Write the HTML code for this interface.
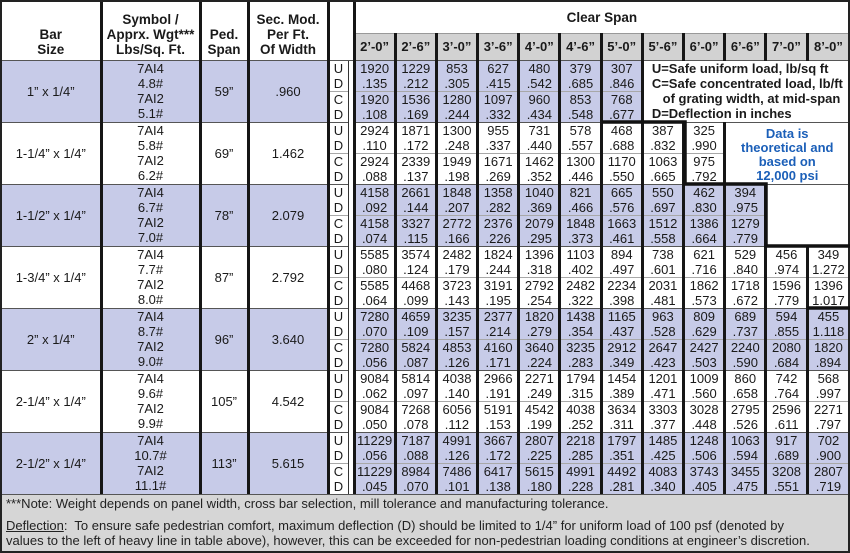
<!DOCTYPE html>
<html><head><meta charset="utf-8"><style>
*{margin:0;padding:0;box-sizing:border-box}
body{width:850px;height:553px;background:#fff;font-family:"Liberation Sans",Arial,sans-serif;color:#1a1a1a;overflow:hidden;position:relative}
#wrap{position:absolute;left:0;top:0;width:850px;height:553px;border:2px solid #222}
table{border-collapse:collapse;table-layout:fixed;width:846px}
td{padding:0;text-align:center;font-size:13px;line-height:13px;height:15px;border-left:3px solid #161616;overflow:hidden;white-space:nowrap}
tr.m td,tr.g td{height:16px}
.h1 td{height:31px}
.h2 td{height:27px}
.hd{font-weight:bold;font-size:13.5px;line-height:15px;vertical-align:bottom;padding-bottom:3px}
.sp{background:#d2d2d2;font-weight:bold;font-size:13px;vertical-align:middle;border-top:1px solid #999}
tr.g td{border-top:1px solid #555}
tr.m td{border-top:1px solid #a8a8a8}
.bl td{background:#c7cbe8}
td.w{background:#fff!important}
.lc{line-height:15px;font-size:13px}
.gap{background:#fff!important;border-left:1px solid #333}
.leg{text-align:left;font-weight:bold;font-size:13px;line-height:15px;padding-left:8px;vertical-align:top;padding-top:0}
.dat{color:#1b5fb8;font-weight:bold;font-size:13px;line-height:14px;vertical-align:top;padding-top:4px}
#foot{position:absolute;left:0;top:492px;width:846px;height:57px;background:#d6d6d6;border-top:1px solid #555;font-size:13px;line-height:15px;padding-left:4px;color:#222}
</style></head><body><div id="wrap">
<table>
<colgroup><col style="width:99px"><col style="width:99px"><col style="width:48px"><col style="width:80px"><col style="width:20px"><col style="width:6px"><col span="12" style="width:41.2px"></colgroup>
<tr class="h1"><td rowspan="2" class="hd" style="border-left:none">Bar<br>Size</td><td rowspan="2" class="hd">Symbol /<br>Apprx. Wgt***<br>Lbs/Sq. Ft.</td><td rowspan="2" class="hd">Ped.<br>Span</td><td rowspan="2" class="hd">Sec. Mod.<br>Per Ft.<br>Of Width</td><td rowspan="2" colspan="2"></td><td colspan="12" style="font-weight:bold;font-size:13.5px">Clear Span</td></tr>
<tr class="h2"><td class="sp">2’-0”</td><td class="sp">2’-6”</td><td class="sp">3’-0”</td><td class="sp">3’-6”</td><td class="sp">4’-0”</td><td class="sp">4’-6”</td><td class="sp">5’-0”</td><td class="sp">5’-6”</td><td class="sp">6’-0”</td><td class="sp">6’-6”</td><td class="sp">7’-0”</td><td class="sp">8’-0”</td></tr>

<tr class="g bl"><td rowspan="4" style="border-left:none">1” x 1/4”</td><td rowspan="4" class="lc">7AI4<br>4.8#<br>7AI2<br>5.1#</td><td rowspan="4">59”</td><td rowspan="4">.960</td><td class="w">U</td><td rowspan="28" class="gap"></td><td>1920</td><td>1229</td><td>853</td><td>627</td><td>480</td><td>379</td><td>307</td><td colspan="5" rowspan="4" class="w leg">U=Safe uniform load, lb/sq ft<br>C=Safe concentrated load, lb/ft<br>&nbsp;&nbsp;&nbsp;of grating width, at mid-span<br>D=Deflection in inches</td></tr>
<tr class="bl"><td class="w">D</td><td>.135</td><td>.212</td><td>.305</td><td>.415</td><td>.542</td><td>.685</td><td>.846</td></tr>
<tr class="m bl"><td class="w">C</td><td>1920</td><td>1536</td><td>1280</td><td>1097</td><td>960</td><td>853</td><td>768</td></tr>
<tr class="bl"><td class="w">D</td><td>.108</td><td>.169</td><td>.244</td><td>.332</td><td>.434</td><td>.548</td><td>.677</td></tr>

<tr class="g"><td rowspan="4" style="border-left:none">1-1/4” x 1/4”</td><td rowspan="4" class="lc">7AI4<br>5.8#<br>7AI2<br>6.2#</td><td rowspan="4">69”</td><td rowspan="4">1.462</td><td>U</td><td>2924</td><td>1871</td><td>1300</td><td>955</td><td>731</td><td>578</td><td>468</td><td>387</td><td>325</td><td colspan="3" rowspan="4" class="dat">Data is<br>theoretical and<br>based on<br>12,000 psi</td></tr>
<tr><td>D</td><td>.110</td><td>.172</td><td>.248</td><td>.337</td><td>.440</td><td>.557</td><td>.688</td><td>.832</td><td>.990</td></tr>
<tr class="m"><td>C</td><td>2924</td><td>2339</td><td>1949</td><td>1671</td><td>1462</td><td>1300</td><td>1170</td><td>1063</td><td>975</td></tr>
<tr><td>D</td><td>.088</td><td>.137</td><td>.198</td><td>.269</td><td>.352</td><td>.446</td><td>.550</td><td>.665</td><td>.792</td></tr>

<tr class="g bl"><td rowspan="4" style="border-left:none">1-1/2” x 1/4”</td><td rowspan="4" class="lc">7AI4<br>6.7#<br>7AI2<br>7.0#</td><td rowspan="4">78”</td><td rowspan="4">2.079</td><td class="w">U</td><td>4158</td><td>2661</td><td>1848</td><td>1358</td><td>1040</td><td>821</td><td>665</td><td>550</td><td>462</td><td>394</td><td colspan="2" rowspan="4" class="w"></td></tr>
<tr class="bl"><td class="w">D</td><td>.092</td><td>.144</td><td>.207</td><td>.282</td><td>.369</td><td>.466</td><td>.576</td><td>.697</td><td>.830</td><td>.975</td></tr>
<tr class="m bl"><td class="w">C</td><td>4158</td><td>3327</td><td>2772</td><td>2376</td><td>2079</td><td>1848</td><td>1663</td><td>1512</td><td>1386</td><td>1279</td></tr>
<tr class="bl"><td class="w">D</td><td>.074</td><td>.115</td><td>.166</td><td>.226</td><td>.295</td><td>.373</td><td>.461</td><td>.558</td><td>.664</td><td>.779</td></tr>

<tr class="g"><td rowspan="4" style="border-left:none">1-3/4” x 1/4”</td><td rowspan="4" class="lc">7AI4<br>7.7#<br>7AI2<br>8.0#</td><td rowspan="4">87”</td><td rowspan="4">2.792</td><td>U</td><td>5585</td><td>3574</td><td>2482</td><td>1824</td><td>1396</td><td>1103</td><td>894</td><td>738</td><td>621</td><td>529</td><td>456</td><td>349</td></tr>
<tr><td>D</td><td>.080</td><td>.124</td><td>.179</td><td>.244</td><td>.318</td><td>.402</td><td>.497</td><td>.601</td><td>.716</td><td>.840</td><td>.974</td><td>1.272</td></tr>
<tr class="m"><td>C</td><td>5585</td><td>4468</td><td>3723</td><td>3191</td><td>2792</td><td>2482</td><td>2234</td><td>2031</td><td>1862</td><td>1718</td><td>1596</td><td>1396</td></tr>
<tr><td>D</td><td>.064</td><td>.099</td><td>.143</td><td>.195</td><td>.254</td><td>.322</td><td>.398</td><td>.481</td><td>.573</td><td>.672</td><td>.779</td><td>1.017</td></tr>

<tr class="g bl"><td rowspan="4" style="border-left:none">2” x 1/4”</td><td rowspan="4" class="lc">7AI4<br>8.7#<br>7AI2<br>9.0#</td><td rowspan="4">96”</td><td rowspan="4">3.640</td><td class="w">U</td><td>7280</td><td>4659</td><td>3235</td><td>2377</td><td>1820</td><td>1438</td><td>1165</td><td>963</td><td>809</td><td>689</td><td>594</td><td>455</td></tr>
<tr class="bl"><td class="w">D</td><td>.070</td><td>.109</td><td>.157</td><td>.214</td><td>.279</td><td>.354</td><td>.437</td><td>.528</td><td>.629</td><td>.737</td><td>.855</td><td>1.118</td></tr>
<tr class="m bl"><td class="w">C</td><td>7280</td><td>5824</td><td>4853</td><td>4160</td><td>3640</td><td>3235</td><td>2912</td><td>2647</td><td>2427</td><td>2240</td><td>2080</td><td>1820</td></tr>
<tr class="bl"><td class="w">D</td><td>.056</td><td>.087</td><td>.126</td><td>.171</td><td>.224</td><td>.283</td><td>.349</td><td>.423</td><td>.503</td><td>.590</td><td>.684</td><td>.894</td></tr>

<tr class="g"><td rowspan="4" style="border-left:none">2-1/4” x 1/4”</td><td rowspan="4" class="lc">7AI4<br>9.6#<br>7AI2<br>9.9#</td><td rowspan="4">105”</td><td rowspan="4">4.542</td><td>U</td><td>9084</td><td>5814</td><td>4038</td><td>2966</td><td>2271</td><td>1794</td><td>1454</td><td>1201</td><td>1009</td><td>860</td><td>742</td><td>568</td></tr>
<tr><td>D</td><td>.062</td><td>.097</td><td>.140</td><td>.191</td><td>.249</td><td>.315</td><td>.389</td><td>.471</td><td>.560</td><td>.658</td><td>.764</td><td>.997</td></tr>
<tr class="m"><td>C</td><td>9084</td><td>7268</td><td>6056</td><td>5191</td><td>4542</td><td>4038</td><td>3634</td><td>3303</td><td>3028</td><td>2795</td><td>2596</td><td>2271</td></tr>
<tr><td>D</td><td>.050</td><td>.078</td><td>.112</td><td>.153</td><td>.199</td><td>.252</td><td>.311</td><td>.377</td><td>.448</td><td>.526</td><td>.611</td><td>.797</td></tr>

<tr class="g bl"><td rowspan="4" style="border-left:none">2-1/2” x 1/4”</td><td rowspan="4" class="lc">7AI4<br>10.7#<br>7AI2<br>11.1#</td><td rowspan="4">113”</td><td rowspan="4">5.615</td><td class="w">U</td><td>11229</td><td>7187</td><td>4991</td><td>3667</td><td>2807</td><td>2218</td><td>1797</td><td>1485</td><td>1248</td><td>1063</td><td>917</td><td>702</td></tr>
<tr class="bl"><td class="w">D</td><td>.056</td><td>.088</td><td>.126</td><td>.172</td><td>.225</td><td>.285</td><td>.351</td><td>.425</td><td>.506</td><td>.594</td><td>.689</td><td>.900</td></tr>
<tr class="m bl"><td class="w">C</td><td>11229</td><td>8984</td><td>7486</td><td>6417</td><td>5615</td><td>4991</td><td>4492</td><td>4083</td><td>3743</td><td>3455</td><td>3208</td><td>2807</td></tr>
<tr class="bl"><td class="w">D</td><td>.045</td><td>.070</td><td>.101</td><td>.138</td><td>.180</td><td>.228</td><td>.281</td><td>.340</td><td>.405</td><td>.475</td><td>.551</td><td>.719</td></tr>
</table>
<svg style="position:absolute;left:-2px;top:-2px" width="850" height="553"><path d="M602,122 H685 V184 H766 V246 H850 M807,308 H850" fill="none" stroke="#111" stroke-width="3.5"/></svg>
<div id="foot"><div style="margin-top:1px">***Note: Weight depends on panel width, cross bar selection, mill tolerance and manufacturing tolerance.</div><div style="margin-top:7px"><u>Deflection</u>:&nbsp; To ensure safe pedestrian comfort, maximum deflection (D) should be limited to 1/4” for uniform load of 100 psf (denoted by<br>values to the left of heavy line in table above), however, this can be exceeded for non-pedestrian loading conditions at engineer’s discretion.</div></div>
</div></body></html>
